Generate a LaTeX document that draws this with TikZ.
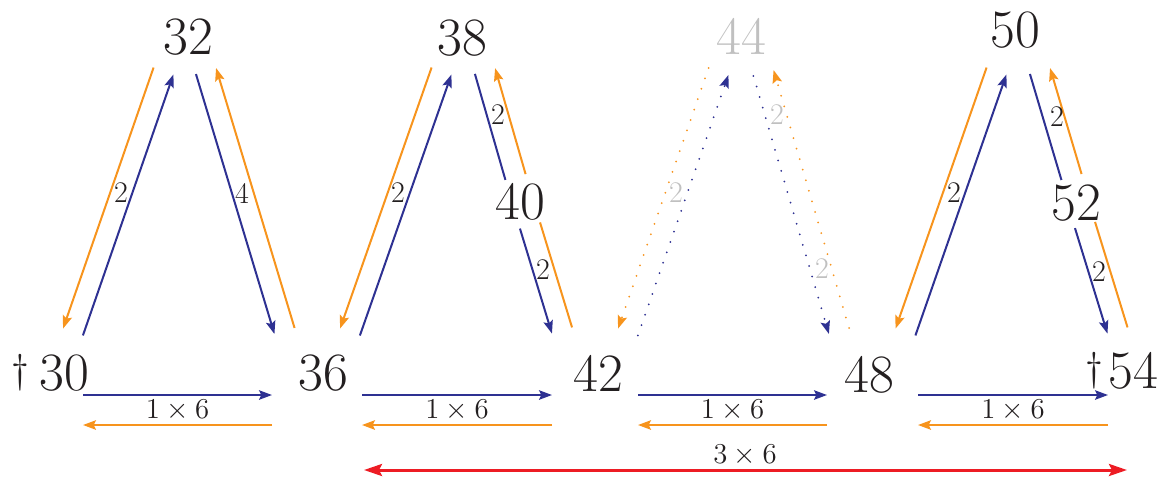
\documentclass[tikz,border=0pt]{standalone}
\usepackage{tikz}
\usetikzlibrary{arrows.meta,calc}
\definecolor{TwBlue}{RGB}{46,49,146}
\definecolor{TwOrange}{RGB}{247,148,29}
\definecolor{TwRed}{RGB}{237,28,36}
\definecolor{TwGray}{RGB}{192,192,192}
\definecolor{TwInk}{RGB}{35,31,32}
% blue goes #1 -> #2, orange comes back, each on its own side
\newcommand{\pairline}[4]{%
  \draw[fwd,#3] ($(#1)!5.25pt!-90:(#2)$) -- ($(#2)!5.25pt!90:(#1)$);
  \draw[bwd,#4] ($(#2)!5.25pt!-90:(#1)$) -- ($(#1)!5.25pt!90:(#2)$);}

\begin{document}
\begin{tikzpicture}[x=0.5pt,y=-0.5pt,>={Stealth[length=6.5pt,width=4.75pt,inset=1.2pt]},
  num/.style={inner sep=0pt,text=TwInk,font=\fontsize{27}{29}\selectfont},
  lbl/.style={inner sep=0pt,text=TwInk,font=\fontsize{15}{17}\selectfont},
  dagmark/.style={inner sep=0pt,text=TwInk,font=\fontsize{20}{22}\selectfont},
  fwd/.style={draw=TwBlue,line width=1pt},
  bwd/.style={draw=TwOrange,line width=1pt},
  dots/.style={dash pattern=on 0pt off 5.5pt,line cap=round},
  spanline/.style={draw=TwRed,line width=1.5pt}]
  \useasboundingbox (0,0) rectangle (1163,478);
  % numbers
  \node[num] (n30) at (64,373) {30};
  \node[dagmark] (d30) at (20,373) {\dag};
  \node[num] (n36) at (323,373) {36};
  \node[num] (n42) at (598,373) {42};
  \node[num] (n48) at (869,375) {48};
  \node[num] (n54) at (1133,371) {54};
  \node[dagmark] (d54) at (1094,371) {\dag};
  \node[num] (n32) at (188,37) {32};
  \node[num] (n38) at (462,38) {38};
  \node[num,text=TwGray] (n44) at (741,36) {44};
  \node[num] (n50) at (1015,30) {50};
  \node[num] (n40) at (520,202) {40};
  \node[num] (n52) at (1076,203) {52};
  % ends of the slanted pairs
  \coordinate (30to32) at (73,332);    \coordinate (32to30) at (163.5,71);
  \coordinate (32to36) at (206,71);    \coordinate (36to32) at (284.5,331);
  \coordinate (36to38) at (350,332);   \coordinate (38to36) at (441.5,71);
  \coordinate (38to40) at (485,71);    \coordinate (40to38) at (515.5,177);
  \coordinate (40to42) at (530,225.5); \coordinate (42to40) at (562,330.5);
  \coordinate (42to44) at (628,332);   \coordinate (44to42) at (718.5,71.5);
  \coordinate (44to48) at (763.5,73);  \coordinate (48to44) at (839,331);
  \coordinate (48to50) at (905.5,332); \coordinate (50to48) at (996.5,71);
  \coordinate (50to52) at (1040,71);   \coordinate (52to50) at (1071.5,177);
  \coordinate (52to54) at (1085,225);  \coordinate (54to52) at (1117.5,330.5);
  \pairline{30to32}{32to30}{->}{->}
  \pairline{32to36}{36to32}{->}{->}
  \pairline{36to38}{38to36}{->}{->}
  \pairline{38to40}{40to38}{-}{->}
  \pairline{40to42}{42to40}{->}{-}
  \pairline{42to44}{44to42}{->,dots}{->,dots}
  \pairline{44to48}{48to44}{->,dots}{->,dots}
  \pairline{48to50}{50to48}{->}{->}
  \pairline{50to52}{52to50}{-}{->}
  \pairline{52to54}{54to52}{->}{-}
  \node[lbl] (w3032) at (121,193) {2};
  \node[lbl] (w3236) at (242,193) {4};
  \node[lbl] (w3638) at (398,193) {2};
  \node[lbl] (w3840) at (498,115) {2};
  \node[lbl] (w4042) at (543,270) {2};
  \node[lbl,text=TwGray] (w4244) at (676,193) {2};
  \node[lbl,text=TwGray] (w4446) at (777,115) {2};
  \node[lbl,text=TwGray] (w4648) at (822,269) {2};
  \node[lbl] (w4850) at (954,193) {2};
  \node[lbl] (w5052) at (1057,117) {2};
  \node[lbl] (w5254) at (1099,272) {2};
  % straight steps of six
  \coordinate (h30) at (83,410);  \coordinate (h36) at (272,410);
  \coordinate (k36) at (362,410); \coordinate (k42) at (552,410);
  \coordinate (h42) at (638,410); \coordinate (h48) at (827,410);
  \coordinate (k48) at (918,410); \coordinate (k54) at (1108,410);
  \foreach \a/\b/\m in {h30/h36/s1,k36/k42/s2,h42/h48/s3,k48/k54/s4}{
    \draw[fwd,->] ([yshift=7.5pt]\a) -- ([yshift=7.5pt]\b);
    \draw[bwd,->] ([yshift=-7.5pt]\b) -- ([yshift=-7.5pt]\a);
    \node[lbl] (\m) at ($(\a)!0.5!(\b)$) {$1\times6$};
  }
  \coordinate (r36) at (364,470); \coordinate (r54) at (1127,470);
  \draw[spanline,>={Stealth[length=9pt,width=6pt,inset=1.5pt]},<->] (r36) -- (r54);
  \node[lbl] (s18) at (745,455) {$3\times6$};
\end{tikzpicture}
\end{document}
